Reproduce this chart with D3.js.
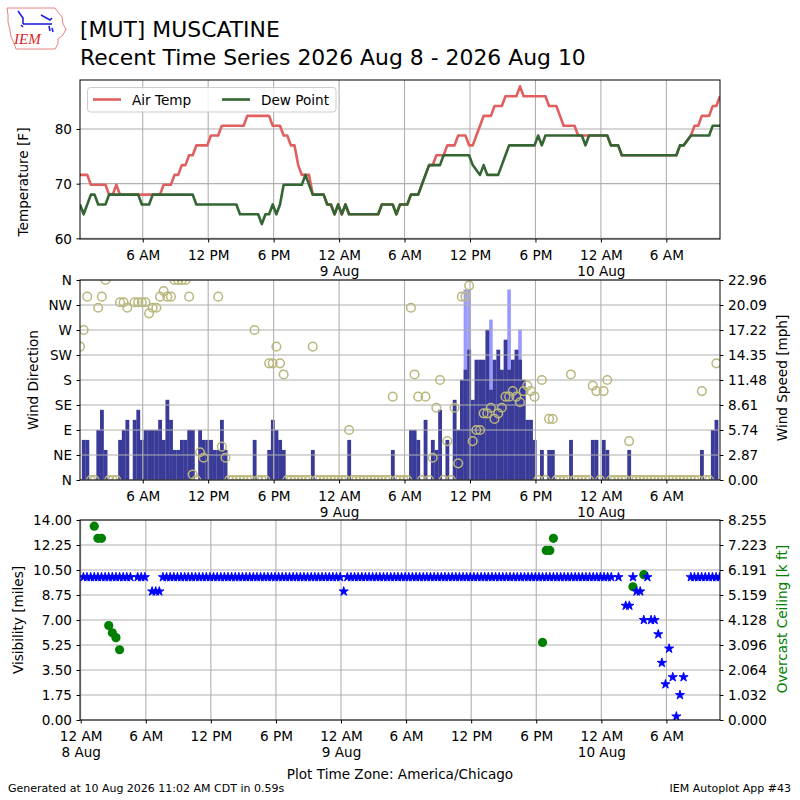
<!DOCTYPE html>
<html>
<head>
<meta charset="utf-8">
<script src="https://cdn.jsdelivr.net/npm/d3@7"></script>
<style>
  body { margin: 0; background: #fff; }
  text { font-family: "DejaVu Sans", sans-serif; font-size: 13.6px; fill: #000; }
</style>
</head>
<body>
<svg id="chart" width="800" height="800"></svg>
<script>
// observations every 20 minutes, first one 00:15 CDT 8 Aug (wall clock kept as UTC)
const obsStart = Date.UTC(2026, 7, 8, 0, 15);
const obsStep = 20 * 60 * 1000;
const obsTime = (i) => new Date(obsStart + i * obsStep);
const lastOb = 176;

// [ob index, deg F] vertices
const tempF = [
  [0,71.6],[2,71.6],[3,69.8],[7,69.8],[8,68],[9,68],[10,69.8],[11,68],[22,68],[23,69.8],
  [25,69.8],[26,71.6],[27,71.6],[28,73.4],[29,73.4],[30,75.2],[31,75.2],[32,77],[35,77],
  [36,78.8],[38,78.8],[39,80.6],[45,80.6],[46,82.4],[52,82.4],[53,80.6],[55,80.6],[56,78.8],
  [57,78.8],[58,77],[59,77],[60,73.4],[61,71.6],[63,71.6],[64,68],[67,68],[68,66.2],[69,66.2],
  [70,64.4],[71,66.2],[72,64.4],[73,66.2],[74,64.4],[82,64.4],[83,66.2],[86,66.2],[87,64.4],
  [88,66.2],[90,66.2],[91,68],[93,68],[94,69.8],[95,71.6],[96,73.4],[97,73.4],[98,75.2],
  [100,75.2],[101,77],[103,77],[104,78.8],[106,78.8],[107,77],[108,77],[109,78.8],[110,80.6],
  [111,82.4],[113,82.4],[114,84.2],[116,84.2],[117,86],[120,86],[121,87.8],[122,86],[128,86],
  [129,84.2],[131,84.2],[132,82.4],[133,80.6],[136,80.6],[137,78.8],[145,78.8],[146,77],
  [148,77],[149,75.2],[164,75.2],[165,77],[166,77],[168,78.8],[169,80.6],[170,80.6],
  [171,82.4],[173,82.4],[174,84.2],[175,84.2],[176,86]
];
const dewF = [
  [0,66.2],[1,64.4],[3,68],[4,68],[5,66.2],[7,66.2],[8,68],[16,68],[17,66.2],[19,66.2],
  [20,68],[31,68],[32,66.2],[43,66.2],[44,64.4],[49,64.4],[50,62.6],[51,64.4],[52,64.4],
  [53,66.2],[54,64.4],[55,66.2],[56,69.8],[61,69.8],[62,71.6],[64,68],[67,68],[68,66.2],
  [69,66.2],[70,64.4],[71,66.2],[72,64.4],[73,66.2],[74,64.4],[82,64.4],[83,66.2],[86,66.2],
  [87,64.4],[88,66.2],[90,66.2],[91,68],[93,68],[94,69.8],[95,71.6],[96,73.4],[99,73.4],
  [100,75.2],[107,75.2],[108,73.4],[110,71.6],[111,73.4],[112,71.6],[115,71.6],[116,73.4],
  [117,75.2],[118,77],[125,77],[126,78.8],[127,77],[128,78.8],[138,78.8],[139,77],[140,78.8],
  [145,78.8],[146,77],[148,77],[149,75.2],[164,75.2],[165,77],[166,77],[168,78.8],
  [173,78.8],[174,80.6],[176,80.6]
];

// one value per ob (knots), null = missing ob
const windKt = [
  0,4,4,0,0,5,7,3,0,0,
  0,4,5,6,null,6,7,4,5,5,
  5,5,6,4,8,6,3,3,4,4,
  5,5,0,5,4,4,4,3,3,6,
  3,0,0,0,0,0,0,0,4,0,
  0,0,3,6,5,4,3,0,0,0,
  0,0,0,0,3,0,0,0,0,0,
  0,0,0,0,4,0,0,0,0,0,
  0,0,0,0,0,0,3,0,0,0,
  0,5,5,4,0,6,0,4,3,7,
  0,4,0,8,5,10,11,13,8,12,
  12,12,15,9,12,13,11,14,11,12,
  13,12,10,6,6,4,0,3,0,3,
  3,0,0,0,0,4,0,0,0,0,
  0,4,4,0,4,3,0,0,0,0,
  0,3,0,0,0,0,0,0,0,0,
  0,0,0,0,0,0,0,0,0,0,
  0,3,0,0,5,6,0
];
const windDir = [
  240,270,330,0,0,310,330,360,0,0,
  0,320,320,310,null,320,320,320,320,300,
  310,310,330,340,330,330,360,360,360,360,
  330,10,0,50,40,null,null,null,330,60,
  40,0,0,0,0,0,0,0,270,0,
  0,0,210,210,240,210,190,0,0,0,
  0,0,0,0,240,0,0,0,0,0,
  0,0,0,0,90,0,0,0,0,0,
  0,0,0,0,0,0,150,0,0,0,
  0,310,190,150,0,150,0,40,130,180,
  0,70,0,130,30,330,330,350,70,90,
  90,120,120,130,110,120,130,150,150,160,
  150,140,160,170,160,150,0,180,0,110,
  110,0,0,0,0,190,0,0,0,0,
  0,170,160,0,160,180,0,0,0,0,
  0,70,0,0,0,0,0,0,0,0,
  0,0,0,0,0,0,0,0,0,0,
  0,160,0,0,null,210,null
];
const gustKt = [[106,19],[107,19],[113,16],[118,19],[121,15]];

const visMiles = [
  10,10,10,10,10,10,10,10,10,10,
  10,10,10,10,null,10,10,10,null,9,
  9,9,10,10,10,10,10,10,10,10,
  10,10,10,10,10,10,10,10,10,10,
  10,10,10,10,10,10,10,10,10,10,
  10,10,10,10,10,10,10,10,10,10,
  10,10,10,10,10,10,10,10,10,10,
  10,10,9,10,10,10,10,10,10,10,
  10,10,10,10,10,10,10,10,10,10,
  10,10,10,10,10,10,10,10,10,10,
  10,10,10,10,10,10,10,10,10,10,
  10,10,10,10,10,10,10,10,10,10,
  10,10,10,10,10,10,10,10,10,10,
  10,10,10,10,10,10,10,10,10,10,
  10,10,10,10,10,10,10,null,10,null,
  8,8,10,9,9,7,10,7,7,6,
  4,2.5,5,3,0.25,1.75,3,null,10,10,
  10,10,10,10,10,10,10
];
// [ob index, overcast ceiling in thousands of feet]
const ceilingKft = [[3,8.0],[4,7.5],[5,7.5],[7,3.9],[8,3.6],[9,3.4],[10,2.9],
  [127,3.2],[128,7.0],[129,7.0],[130,7.5],[152,5.5],[155,6.0]];

const tempTicks = [60, 70, 80];
const dirTicks = [0, 45, 90, 135, 180, 225, 270, 315, 360];
const dirLabels = ['N','NE','E','SE','S','SW','W','NW','N'];
const speedTicks = ['0.00','2.87','5.74','8.61','11.48','14.35','17.22','20.09','22.96'];
const visTicks = ['0.00','1.75','3.50','5.25','7.00','8.75','10.50','12.25','14.00'];
const ceilTicks = ['0.000','1.032','2.064','3.096','4.128','5.159','6.191','7.223','8.255'];

const KT2MPH = 1.15078;
const colors = { temp: '#e0605f', dew: '#336633', bar: '#3a3a98', gust: '#9999ff',
  dir: '#bab77c', vis: '#0000ff', ceil: '#008000', grid: '#b0b0b0' };

const svg = d3.select('#chart');
const L = 80, R = 720;
const P = { temp: [80, 239], wind: [280, 480], vis: [520, 720] };

const xMain = d3.scaleUtc().domain([obsTime(0), obsTime(lastOb)]).range([L, R]);
const xVis = d3.scaleUtc()
  .domain([new Date(Date.UTC(2026, 7, 7, 23, 56, 8)), new Date(Date.UTC(2026, 7, 10, 10, 56, 30))])
  .range([L, R]);

const yTemp = d3.scaleLinear().domain([59.88, 88.96]).range([P.temp[1], P.temp[0]]);
const yDir = d3.scaleLinear().domain([0, 360]).range([P.wind[1], P.wind[0]]);
const ySpeed = d3.scaleLinear().domain([0, 22.96]).range([P.wind[1], P.wind[0]]);
const yVis = d3.scaleLinear().domain([0, 14]).range([P.vis[1], P.vis[0]]);
const yCeil = d3.scaleLinear().domain([0, 8.255]).range([P.vis[1], P.vis[0]]);

function hourText(d) {
  const h = d.getUTCHours();
  if (h === 0) return '12 AM';
  if (h === 12) return '12 PM';
  return (h % 12) + (h < 12 ? ' AM' : ' PM');
}

function sixHourTicks(x) {
  const [a, b] = x.domain();
  return d3.utcHour.every(6).range(a, new Date(+b + 1));
}

function clip(id, y0, y1) {
  svg.append('clipPath').attr('id', id)
    .append('rect').attr('x', L).attr('y', y0).attr('width', R - L).attr('height', y1 - y0);
  return `url(#${id})`;
}

function grid(x, yVals, y, [y0, y1]) {
  const g = svg.append('g').attr('stroke', colors.grid).attr('stroke-width', 1.1);
  g.selectAll('line.v').data(sixHourTicks(x)).join('line')
    .attr('x1', d => x(d)).attr('x2', d => x(d)).attr('y1', y0).attr('y2', y1);
  g.selectAll('line.h').data(yVals).join('line')
    .attr('x1', L).attr('x2', R).attr('y1', d => y(d)).attr('y2', d => y(d));
}

function timeAxis(x, y1) {
  const ag = svg.append('g').attr('transform', `translate(0,${y1})`)
    .call(d3.axisBottom(x).tickValues(sixHourTicks(x)).tickSize(3.5).tickFormat(''));
  ag.select('.domain').remove();
  ag.selectAll('.tick').each(function (d) {
    const t = d3.select(this).append('text').attr('text-anchor', 'middle').attr('y', 21);
    t.append('tspan').attr('x', 0).text(hourText(d));
    if (d.getUTCHours() === 0) {
      t.append('tspan').attr('x', 0).attr('dy', 16).text(d.getUTCDate() + ' Aug');
    }
  });
}

function yAxis(side, y, vals, labels) {
  const ax = side === 'left' ? d3.axisLeft(y) : d3.axisRight(y);
  const ag = svg.append('g').attr('transform', `translate(${side === 'left' ? L : R},0)`)
    .call(ax.tickValues(vals).tickSize(3.5).tickPadding(4.5).tickFormat((d, i) => labels[i]));
  ag.select('.domain').remove();
  ag.selectAll('text').attr('dy', '0.35em');
}

function spine([y0, y1]) {
  svg.append('rect').attr('x', L).attr('y', y0).attr('width', R - L).attr('height', y1 - y0)
    .attr('fill', 'none').attr('stroke', '#000').attr('stroke-width', 1);
}

function yLabel(text, x, yc, color) {
  svg.append('text').attr('transform', `translate(${x},${yc}) rotate(-90)`)
    .attr('text-anchor', 'middle').style('fill', color || '#000').text(text);
}

// ---- titles and logo ----
svg.append('text').attr('x', 80).attr('y', 37).style('font-size', '21.9px').text('[MUT] MUSCATINE');
svg.append('text').attr('x', 80).attr('y', 64.5).style('font-size', '21.9px')
  .text('Recent Time Series 2026 Aug 8 - 2026 Aug 10');

const logo = svg.append('g');
logo.append('path')
  .attr('d', 'M7,8 L55,8 L58,12 L62,17 L63,24 L66,29 L63,35 L58,39 L58,44 L55,49 L16,49 L14,43 L11,37 L10,30 L8,22 L8,15 Z')
  .attr('fill', 'none').attr('stroke', '#e86060').attr('stroke-width', 0.8);
const blue = logo.append('g').attr('stroke', '#2020e0').attr('stroke-width', 1.6).attr('fill', 'none');
blue.append('path').attr('d', 'M23,24 L52,24');
blue.append('path').attr('d', 'M18,11 L23,18 L23,24');
blue.append('path').attr('d', 'M41,15 L50,20 L52,18');
blue.append('path').attr('d', 'M21,25 L23,27 M49,26 L50,31 M52,28 L53,32');
logo.append('text').attr('x', 14).attr('y', 44)
  .style('font-family', '"Liberation Serif", serif').style('font-style', 'italic')
  .style('font-size', '15px').style('fill', '#d62828').text('IEM');

// ---- temperature panel ----
const clipT = clip('clipT', ...P.temp);
grid(xMain, tempTicks, yTemp, P.temp);
const line = d3.line().x(d => xMain(obsTime(d[0]))).y(d => yTemp(d[1]));
const tg = svg.append('g').attr('clip-path', clipT).attr('fill', 'none')
  .attr('stroke-width', 2.6).attr('stroke-linejoin', 'round');
tg.append('path').attr('d', line(tempF)).attr('stroke', colors.temp);
tg.append('path').attr('d', line(dewF)).attr('stroke', colors.dew);
spine(P.temp);
timeAxis(xMain, P.temp[1]);
yAxis('left', yTemp, tempTicks, tempTicks.map(String));
yLabel('Temperature [F]', 28, 182);

const lg = svg.append('g');
lg.append('rect').attr('x', 87.5).attr('y', 87.5).attr('width', 248.5).attr('height', 24.5)
  .attr('rx', 3).attr('fill', '#fff').attr('fill-opacity', 0.8).attr('stroke', '#cccccc');
[['Air Temp', colors.temp, 93], ['Dew Point', colors.dew, 222]].forEach(([name, c, x0]) => {
  lg.append('line').attr('x1', x0).attr('x2', x0 + 28).attr('y1', 99.5).attr('y2', 99.5)
    .attr('stroke', c).attr('stroke-width', 2.6);
  lg.append('text').attr('x', x0 + 39).attr('y', 104.5).text(name);
});

// ---- wind panel ----
const clipW = clip('clipW', ...P.wind);
const barW = xMain(obsTime(1)) - xMain(obsTime(0));
const wg = svg.append('g').attr('clip-path', clipW);
wg.selectAll('rect.gust').data(gustKt).join('rect')
  .attr('x', d => xMain(obsTime(d[0])) - barW / 2).attr('width', barW)
  .attr('y', d => ySpeed(d[1] * KT2MPH)).attr('height', d => P.wind[1] - ySpeed(d[1] * KT2MPH))
  .attr('fill', colors.gust);
const sustained = windKt.map((v, i) => [i, v]).filter(d => d[1] > 0);
wg.selectAll('rect.sknt').data(sustained).join('rect')
  .attr('x', d => xMain(obsTime(d[0])) - barW / 2).attr('width', barW + 0.2)
  .attr('y', d => ySpeed(d[1] * KT2MPH)).attr('height', d => P.wind[1] - ySpeed(d[1] * KT2MPH))
  .attr('fill', colors.bar);
grid(xMain, dirTicks, yDir, P.wind);
const dirs = windDir.map((v, i) => [i, v]).filter(d => d[1] !== null);
svg.append('g').attr('clip-path', clipW).selectAll('circle').data(dirs).join('circle')
  .attr('cx', d => xMain(obsTime(d[0]))).attr('cy', d => yDir(d[1])).attr('r', 4.3)
  .attr('fill', 'none').attr('stroke', colors.dir).attr('stroke-width', 1.5);
spine(P.wind);
timeAxis(xMain, P.wind[1]);
yAxis('left', yDir, dirTicks, dirLabels);
yAxis('right', ySpeed, speedTicks.map(Number), speedTicks);
yLabel('Wind Direction', 38, 380);
yLabel('Wind Speed [mph]', 787, 378);

// ---- visibility / ceiling panel ----
const clipV = clip('clipV', ...P.vis);
grid(xVis, visTicks.map(Number), yVis, P.vis);
const vg = svg.append('g').attr('clip-path', clipV);
vg.selectAll('circle').data(ceilingKft).join('circle')
  .attr('cx', d => xVis(obsTime(d[0]))).attr('cy', d => yCeil(d[1])).attr('r', 4.6)
  .attr('fill', colors.ceil);
const vis = visMiles.map((v, i) => [i, v]).filter(d => d[1] !== null);
const star = d3.symbol(d3.symbolStar, 26);
vg.selectAll('path.vis').data(vis).join('path')
  .attr('transform', d => `translate(${xVis(obsTime(d[0]))},${yVis(d[1])})`)
  .attr('d', star).attr('fill', colors.vis)
  .attr('stroke', colors.vis).attr('stroke-width', 0.9).attr('stroke-linejoin', 'round');
spine(P.vis);
timeAxis(xVis, P.vis[1]);
yAxis('left', yVis, visTicks.map(Number), visTicks);
yAxis('right', yCeil, ceilTicks.map(Number), ceilTicks);
yLabel('Visibility [miles]', 23, 620);
yLabel('Overcast Ceiling [k ft]', 787, 619, colors.ceil);

// ---- footer ----
svg.append('text').attr('x', 400).attr('y', 779).attr('text-anchor', 'middle')
  .text('Plot Time Zone: America/Chicago');
svg.append('text').attr('x', 8).attr('y', 792).style('font-size', '11px')
  .text('Generated at 10 Aug 2026 11:02 AM CDT in 0.59s');
svg.append('text').attr('x', 791).attr('y', 792).attr('text-anchor', 'end').style('font-size', '11px')
  .text('IEM Autoplot App #43');
</script>
</body>
</html>
